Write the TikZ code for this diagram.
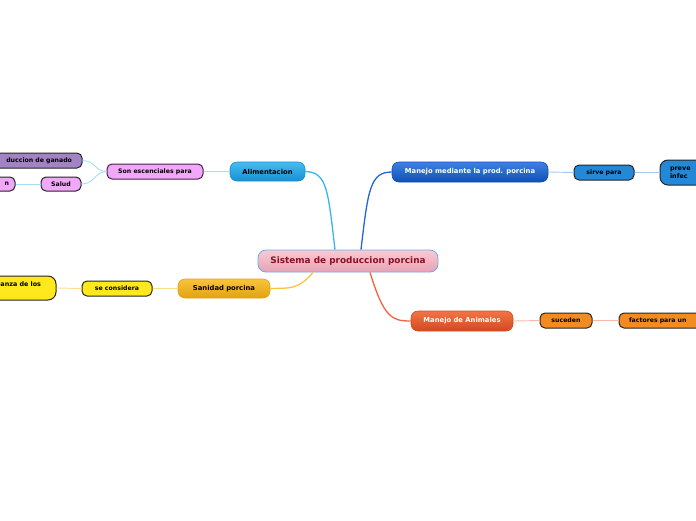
\documentclass[tikz,border=0pt]{standalone}
\usepackage{fontspec}
\setmainfont{DejaVu Sans}
\definecolor{cpinkT}{HTML}{F7CAD4}
\definecolor{cpinkB}{HTML}{E9A2B3}
\definecolor{cpinkD}{HTML}{6AAEE8}
\definecolor{cred}{HTML}{8B1020}
\definecolor{cbluT}{HTML}{45BDF2}
\definecolor{cbluB}{HTML}{1590D2}
\definecolor{cbluL}{HTML}{38B4F0}
\definecolor{cbluLL}{HTML}{A8DCF2}
\definecolor{cviolet}{HTML}{F2A8F8}
\definecolor{cvioletD}{HTML}{4A1E4E}
\definecolor{cpurple}{HTML}{A383C3}
\definecolor{cdkT}{HTML}{3C82E2}
\definecolor{cdkB}{HTML}{1150B2}
\definecolor{cdkL}{HTML}{2466D6}
\definecolor{cdkLL}{HTML}{A8C4F0}
\definecolor{cmid}{HTML}{2388D8}
\definecolor{cgoldT}{HTML}{F9C43A}
\definecolor{cgoldB}{HTML}{E2A213}
\definecolor{cgoldL}{HTML}{F8C440}
\definecolor{cgoldLL}{HTML}{FBDC8A}
\definecolor{cyel}{HTML}{FFE81C}
\definecolor{coraT}{HTML}{F27444}
\definecolor{coraB}{HTML}{D24A20}
\definecolor{coraL}{HTML}{F06442}
\definecolor{coraLL}{HTML}{F8B8A8}
\definecolor{corange}{HTML}{F28C22}
\begin{document}
\begin{tikzpicture}[x=1pt,y=-1pt,
  mainbox/.style={rounded corners=7pt, minimum height=20pt, inner sep=0pt, line width=0.6pt,
    font=\bfseries\fontsize{6.8}{8}\selectfont},
  subbox/.style={draw=black!85, line width=1pt, rounded corners=5pt, minimum height=15pt,
    inner sep=0pt, font=\bfseries\fontsize{6.2}{7.5}\selectfont},
  mainlink/.style={line width=1.3pt},
  sublink/.style={line width=0.9pt}]
\useasboundingbox (0,0) rectangle (696,520);
\clip (0,0) rectangle (696,520);

% central
\node[mainbox, rounded corners=8pt, minimum width=180pt, minimum height=22pt,
  top color=cpinkT, bottom color=cpinkB, draw=cpinkD, line width=0.8pt,
  text=cred, font=\bfseries\fontsize{8.9}{10}\selectfont] (central) at (348,261) {Sistema de produccion porcina};

% branch: Alimentacion
\node[mainbox, minimum width=75pt, minimum height=19pt, top color=cbluT, bottom color=cbluB, draw=cbluB] (alim) at (267.5,171.5) {Alimentacion};
\node[subbox, fill=cviolet, draw=cvioletD, minimum width=96pt] (son) at (155,171.5) {Son escenciales para};
\node[subbox, fill=cpurple, draw=black!85, minimum width=100pt, text width=80pt, align=right] (gan) at (32,160.5) {duccion de ganado};
\node[subbox, fill=cviolet, draw=black!85, minimum width=40pt, minimum height=14pt] (salud) at (61,184) {Salud};
\node[subbox, fill=cviolet, draw=black!85, minimum width=35pt, minimum height=14pt, text width=23pt, align=right] (nn) at (-2.5,184) {n};

% branch: Manejo mediante
\node[mainbox, minimum width=156pt, top color=cdkT, bottom color=cdkB, draw=cdkB, text=white] (manejo) at (470,172) {Manejo mediante la prod. porcina};
\node[subbox, fill=cmid, minimum width=60pt] (sirve) at (604,172.5) {sirve para};
\node[subbox, fill=cmid, minimum width=70pt, minimum height=25pt, rounded corners=8pt, text width=50pt, align=left,
  font=\bfseries\fontsize{6.4}{8}\selectfont] (preve) at (695,172.5) {preve\\infec};

% branch: Sanidad
\node[mainbox, minimum width=92pt, minimum height=19pt, top color=cgoldT, bottom color=cgoldB, draw=cgoldB] (sanidad) at (224,288.5) {Sanidad porcina};
\node[subbox, fill=cyel, minimum width=70pt] (secons) at (117,288.5) {se considera};
\node[subbox, fill=cyel, minimum width=106pt, minimum height=24pt, rounded corners=8pt, text width=76pt, align=right,
  font=\bfseries\fontsize{6.4}{8}\selectfont] (anza) at (3,288) {anza de los\\~};

% branch: Manejo de Animales
\node[mainbox, minimum width=102pt, top color=coraT, bottom color=coraB, draw=coraB, text=white] (animales) at (462,321) {Manejo de Animales};
\node[subbox, fill=corange, minimum width=52pt] (suceden) at (566,320.5) {suceden};
\node[subbox, fill=corange, minimum width=111pt, text width=91pt, align=left] (factores) at (674.5,320.5) {factores para un};

% main connectors
\draw[mainlink, cbluL] ([xshift=-13pt]central.north) .. controls (328,190) and (327,172) .. (alim.east);
\draw[mainlink, cdkL] ([xshift=13pt]central.north) .. controls (368,190) and (370,172) .. (manejo.west);
\draw[mainlink, cgoldL] ([xshift=-35pt]central.south) .. controls (298,290) and (290,288) .. (sanidad.east);
\draw[mainlink, coraL] ([xshift=22pt]central.south) .. controls (384,318) and (392,321) .. (animales.west);

% sub connectors
\draw[sublink, cbluLL] (alim.west) -- (son.east);
\draw[sublink, cbluLL] (son.west) .. controls (94,171) and (96,161) .. (gan.east);
\draw[sublink, cbluLL] (son.west) .. controls (94,172) and (95,184) .. (salud.east);
\draw[sublink, cbluLL] (salud.west) -- (nn.east);
\draw[sublink, cdkLL] (manejo.east) -- (sirve.west);
\draw[sublink, cdkLL] (sirve.east) -- (preve.west);
\draw[sublink, cgoldLL] (sanidad.west) -- (secons.east);
\draw[sublink, cgoldLL] (secons.west) -- (anza.east);
\draw[sublink, coraLL] (animales.east) -- (suceden.west);
\draw[sublink, coraLL] (suceden.east) -- (factores.west);
\end{tikzpicture}
\end{document}
